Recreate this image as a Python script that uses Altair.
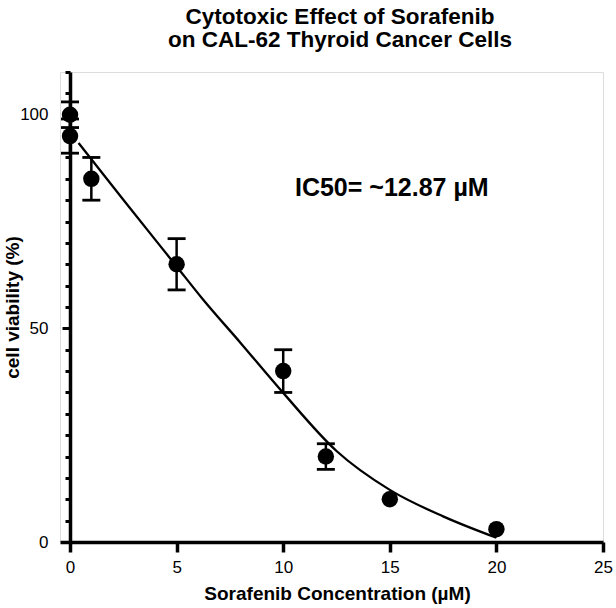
import altair as alt
import pandas as pd

# ---- data ----
conc = [0, 0, 1, 5, 10, 12, 15, 20]
viability = [100, 95, 85, 65, 40, 20, 10, 3]
sd = [3, 4, 5, 6, 5, 3, 0, 0]

fit_x = [0.4, 2.5, 5, 6.2, 8, 10, 12.5, 15, 17.5, 20]
fit_y = [93.4, 80.1, 64.5, 57.0, 46.6, 34.9, 21.3, 12.2, 6.0, 1.0]

x_ticks = [0, 5, 10, 15, 20, 25]
y_ticks = list(range(0, 115, 5))

title_lines = ["Cytotoxic Effect of Sorafenib", "on CAL-62 Thyroid Cancer Cells"]
x_title = "Sorafenib Concentration (µM)"
y_title = "cell viability (%)"

note_text = ["IC50= ~12.87 µM"]
note_x = [10.55]
note_y = [81.0]

FONT = "Liberation Sans"

df = pd.DataFrame({"conc": conc, "viability": viability, "sd": sd})
df["lo"] = df["viability"] - df["sd"]
df["hi"] = df["viability"] + df["sd"]
err = df[df["sd"] > 0]
fit = pd.DataFrame({"conc": fit_x, "viability": fit_y})
note = pd.DataFrame({"conc": note_x, "viability": note_y, "label": note_text})

xs = alt.Scale(domain=[-0.47, 25], nice=False, zero=False)
ys = alt.Scale(domain=[0, 110], nice=False, zero=False)

x_axis = alt.Axis(
    values=x_ticks, title=x_title, grid=False,
    domainColor="black", domainWidth=3.5, tickColor="black", tickWidth=3.5,
    tickSize=10, labelPadding=7, labelFontSize=17, labelFont=FONT,
    labelColor="black", labelFlush=False, labelOverlap=False,
    titleFont=FONT, titleFontSize=19, titleFontWeight="bold", titleColor="black",
    titleX=277, titleY=57, titleBaseline="alphabetic", titleAnchor="start",
    titleAlign="center",
)
y_axis = alt.Axis(
    values=y_ticks, title=y_title, grid=False, offset=-10,
    labelExpr="datum.value % 50 === 0 ? datum.label : ''",
    domainColor="black", domainWidth=3.5, tickColor="black", tickWidth=3,
    tickSize={"condition": {"test": "datum.value % 50 === 0", "value": 8}, "value": 5},
    labelPadding=14, labelFontSize=17, labelFont=FONT, labelColor="black",
    labelFlush=False, labelOverlap=False,
    titleFont=FONT, titleFontSize=19, titleFontWeight="bold", titleColor="black",
    titleX=-51.5, titleY=235, titleBaseline="alphabetic", titleAngle=-90,
    titleAlign="center",
)

X = lambda f: alt.X(f"{f}:Q", scale=xs, axis=x_axis)
Y = lambda f: alt.Y(f"{f}:Q", scale=ys, axis=y_axis)

line = alt.Chart(fit).mark_line(color="black", strokeWidth=2.3, interpolate="monotone").encode(
    x=X("conc"), y=Y("viability")
)
bars = alt.Chart(err).mark_rule(color="black", strokeWidth=2.5).encode(
    x=X("conc"), y=Y("lo"), y2="hi"
)
cap_top = alt.Chart(err).mark_tick(color="black", orient="horizontal", size=18, thickness=2.8, opacity=1).encode(
    x=X("conc"), y=Y("hi")
)
cap_bot = alt.Chart(err).mark_tick(color="black", orient="horizontal", size=18, thickness=2.8, opacity=1).encode(
    x=X("conc"), y=Y("lo")
)
pts = alt.Chart(df).mark_circle(color="black", opacity=1, size=270).encode(
    x=X("conc"), y=Y("viability")
)
txt = alt.Chart(note).mark_text(
    align="left", baseline="alphabetic", fontSize=25, fontWeight="bold", font=FONT, color="black"
).encode(x=X("conc"), y=Y("viability"), text="label:N")

chart = alt.layer(line, bars, cap_top, cap_bot, pts, txt).properties(
    width=543, height=470,
    autosize=alt.AutoSizeParams(type="none"),
    padding={"left": 60, "top": 72, "right": 13, "bottom": 66},
    title=alt.TitleParams(
        text=title_lines, fontSize=22.5, fontWeight="bold", font=FONT, color="black",
        anchor="middle", offset=12, dx=8.5, lineHeight=23,
    ),
).configure_view(stroke=None).configure(background="white")

chart.save("out.html", embed_options={"renderer": "svg", "actions": False})
